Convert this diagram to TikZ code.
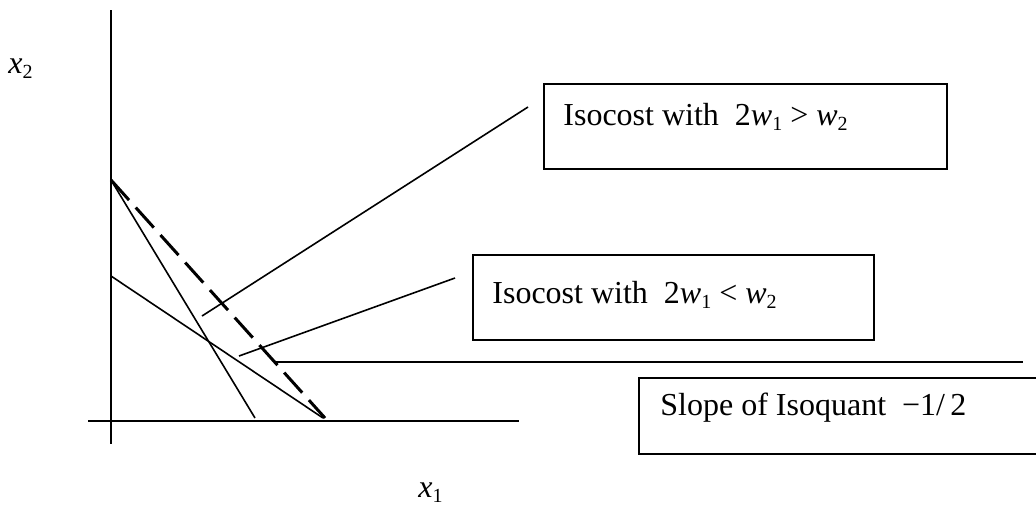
\documentclass[tikz,border=0pt]{standalone}
\usepackage{fontspec}
\setmainfont{Liberation Serif}
\newcommand{\sbs}[1]{\raisebox{-2.5pt}{\fontsize{10}{12}\selectfont #1}}
\begin{document}
\begin{tikzpicture}[x=0.5pt,y=-0.5pt,
  axisline/.style={line width=1.1pt},
  curveline/.style={line width=0.8pt},
  dashline/.style={line width=1.5pt, dash pattern=on 13.5pt off 5pt},
  leader/.style={line width=0.8pt},
  lbl/.style={font=\fontsize{16}{19}\selectfont, anchor=base west, inner sep=0pt},
  boxnode/.style={draw, line width=1pt, rectangle, anchor=north west, inner sep=0pt},
]
\useasboundingbox (0,0) rectangle (1036,510);
\clip (0,0) rectangle (1036,510);
% axes
\coordinate (ytop) at (111,10);
\coordinate (ybot) at (111,444);
\coordinate (xleft) at (88,421);
\coordinate (xright) at (519,421);
\draw[axisline] (ytop) -- (ybot);
\draw[axisline] (xleft) -- (xright);
\node[lbl] (x2lab) at (8,73) {\textit{x}\sbs{2}};
\node[lbl] (x1lab) at (418,497) {\textit{x}\sbs{1}};
% lines
\coordinate (A) at (111,180);
\coordinate (B) at (111,276);
\coordinate (C) at (255,418);
\coordinate (D) at (325,418);
\coordinate (E) at (323,418);
\draw[curveline] (A) -- (C);
\draw[curveline] (B) -- (E);
\draw[dashline] (A) -- (D);
% boxes
\node[boxnode, minimum width=201.5pt, minimum height=42.5pt] (box1) at (543,83) {};
\node[boxnode, minimum width=200.5pt, minimum height=42.5pt] (box2) at (472,254) {};
\node[boxnode, minimum width=202pt, minimum height=38pt] (box3) at (638,377) {};
\node[lbl] (t1) at (563,125) {Isocost with\ \ 2\textit{w}\sbs{1}\ >\ \textit{w}\sbs{2}};
\node[lbl] (t2) at (492,303) {Isocost with\ \ 2\textit{w}\sbs{1}\ <\ \textit{w}\sbs{2}};
\node[lbl] (t3) at (660,415) {Slope of Isoquant\ \ −1/\,2};
% leaders
\coordinate (L1a) at (202,316);
\coordinate (L1b) at (528,107);
\coordinate (L2a) at (239,356);
\coordinate (L2b) at (455,278);
\coordinate (L3a) at (275,362);
\coordinate (L3b) at (1023,362);
\draw[leader] (L1a) -- (L1b);
\draw[leader] (L2a) -- (L2b);
\draw[leader] (L3a) -- (L3b);
\end{tikzpicture}
\end{document}
